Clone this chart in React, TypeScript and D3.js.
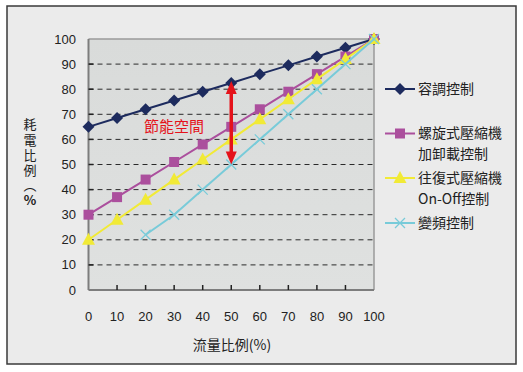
import React from "react";
import * as d3 from "d3";

// x: 流量比例(%)
const flowPct = [0, 10, 20, 30, 40, 50, 60, 70, 80, 90, 100];
const yTicks = [0, 10, 20, 30, 40, 50, 60, 70, 80, 90, 100];

// 耗電比例(%)
const capacityCtrl = [65, 68.5, 72, 75.5, 79, 82.5, 86, 89.5, 93, 96.5, 100];
const screwLoadUnload = [30, 37, 44, 51, 58, 65, 72, 79, 86, 93, 100];
const reciprocOnOff = [20, 28, 36, 44, 52, 60, 68, 76, 84, 92, 100];
const inverterFlow = [20, 30, 40, 50, 60, 70, 80, 90, 100];
const inverterCtrl = [22, 30, 40, 50, 60, 70, 80, 90, 100];

const savingFrom = 82.5;
const savingTo = 50;
const savingAt = 50;

const yTitle = "耗電比例︵";
const yTitleUnit = "%";

const W = 523, H = 372;
const plot = {left: 88.5, right: 374, top: 39, bottom: 290};
const font = "'Liberation Sans', 'Noto Sans CJK TC', sans-serif";
const cjk = "'Noto Sans CJK TC', 'Liberation Sans', sans-serif";

type Series = {
    name: string[];
    xs: number[];
    ys: number[];
    color: string;
    marker: "diamond" | "square" | "triangle" | "cross";
    legendY: number;
};

const series: Series[] = [
    {name: ["容調控制"], xs: flowPct, ys: capacityCtrl, color: "#1d2b5e", marker: "diamond", legendY: 89},
    {name: ["螺旋式壓縮機", "加卸載控制"], xs: flowPct, ys: screwLoadUnload, color: "#ab4f9d", marker: "square", legendY: 133.5},
    {name: ["往復式壓縮機", "On-Off控制"], xs: flowPct, ys: reciprocOnOff, color: "#f1ea36", marker: "triangle", legendY: 178},
    {name: ["變頻控制"], xs: inverterFlow, ys: inverterCtrl, color: "#78cbd9", marker: "cross", legendY: 223},
];

function Marker({kind, x, y, color}: {kind: string, x: number, y: number, color: string}) {
    if (kind === "diamond") {
        const r = 6;
        return <path d={`M${x},${y - r}L${x + r},${y}L${x},${y + r}L${x - r},${y}Z`} fill={color}/>;
    }
    if (kind === "square") {
        return <rect x={x - 5} y={y - 5} width={10} height={10} fill={color}/>;
    }
    if (kind === "triangle") {
        return <path d={`M${x},${y - 7}L${x + 6.5},${y + 5}L${x - 6.5},${y + 5}Z`} fill={color}/>;
    }
    const r = 5;
    return <path d={`M${x - r},${y - r}L${x + r},${y + r}M${x + r},${y - r}L${x - r},${y + r}`}
                 stroke={color} strokeWidth={1.3} fill="none"/>;
}

export default function App() {
    const x = d3.scaleLinear().domain([0, 100]).range([plot.left, plot.right]);
    const y = d3.scaleLinear().domain([0, 100]).range([plot.bottom, plot.top]);
    const line = d3.line<[number, number]>().x(d => x(d[0])).y(d => y(d[1]));

    const ax = x(savingAt);
    const aTop = y(savingFrom) - 2;
    const aBot = y(savingTo);

    return (
        <div style={{position: "fixed", left: 0, top: 0}}>
            <svg width={W} height={H} style={{display: "block"}}>
                <defs>
                    <linearGradient id="plotbg" x1="0" y1="0" x2="0" y2="1">
                        <stop offset="0" stopColor="#d9dbda"/>
                        <stop offset="1" stopColor="#dfe1e0"/>
                    </linearGradient>
                </defs>
                <rect x={0} y={0} width={W} height={H} fill="#ffffff"/>
                <rect x={7} y={6} width={509} height={358} fill="#ebebeb" stroke="#3a3a3a" strokeWidth={1.5}/>
                <rect x={plot.left} y={plot.top} width={plot.right - plot.left} height={plot.bottom - plot.top}
                      fill="url(#plotbg)"/>

                {/* gridlines */}
                {yTicks.filter(t => t > 0 && t < 100).map(t => (
                    <line key={t} x1={plot.left} x2={plot.right} y1={y(t)} y2={y(t)}
                          stroke="#2a2a2a" strokeWidth={1} strokeDasharray="5,4"/>
                ))}
                {/* frame */}
                <line x1={plot.left} x2={plot.right} y1={plot.top} y2={plot.top} stroke="#9a9a9a" strokeWidth={1.5}/>
                <line x1={plot.right} x2={plot.right} y1={plot.top} y2={plot.bottom} stroke="#9a9a9a" strokeWidth={1.5}/>
                <line x1={plot.left} x2={plot.left} y1={plot.top} y2={plot.bottom} stroke="#7d7d7d" strokeWidth={2}/>
                <line x1={plot.left} x2={plot.right} y1={plot.bottom} y2={plot.bottom} stroke="#7d7d7d" strokeWidth={2}/>
                {/* inner ticks */}
                {yTicks.filter(t => t > 0 && t < 100).map(t => (
                    <line key={"yt" + t} x1={plot.left} x2={plot.left + 5} y1={y(t)} y2={y(t)} stroke="#222" strokeWidth={1.5}/>
                ))}
                {flowPct.filter(t => t > 0 && t < 100).map(t => (
                    <line key={"xt" + t} x1={x(t)} x2={x(t)} y1={plot.bottom} y2={plot.bottom - 5} stroke="#222" strokeWidth={1.5}/>
                ))}

                {/* tick labels */}
                {yTicks.map(t => (
                    <text key={"yl" + t} x={76} y={y(t)} dy="0.35em" textAnchor="end"
                          fontFamily={font} fontSize={13} fill="#222">{t}</text>
                ))}
                {flowPct.map(t => (
                    <text key={"xl" + t} x={x(t)} y={316} dy="0.35em" textAnchor="middle"
                          fontFamily={font} fontSize={13} fill="#222">{t}</text>
                ))}

                {/* axis titles */}
                <text x={232} y={345} dy="0.35em" textAnchor="middle" fontFamily={cjk} fontSize={14} fill="#222">
                    流量比例(%)
                </text>
                <text x={30} y={118} fontFamily={cjk} fontSize={13} fill="#222" letterSpacing={2.2}
                      style={{writingMode: "vertical-rl", textOrientation: "upright"}}>
                    {yTitle}<tspan fontWeight="bold">{yTitleUnit}</tspan>
                </text>

                {/* series */}
                {series.map(s => {
                    const pts = s.xs.map((v, i) => [v, s.ys[i]] as [number, number]);
                    return (
                        <g key={s.name[0]}>
                            <path d={line(pts) || ""} fill="none" stroke={s.color} strokeWidth={2}/>
                            {pts.map((p, i) => (
                                <Marker key={i} kind={s.marker} x={x(p[0])} y={y(p[1])} color={s.color}/>
                            ))}
                        </g>
                    );
                })}

                {/* saving arrow */}
                <line x1={ax} x2={ax} y1={aTop + 10} y2={aBot - 10} stroke="#e5131b" strokeWidth={3.5}/>
                <path d={`M${ax},${aTop}L${ax + 5.5},${aTop + 13}L${ax - 5.5},${aTop + 13}Z`} fill="#e5131b"/>
                <path d={`M${ax},${aBot}L${ax + 5.5},${aBot - 13}L${ax - 5.5},${aBot - 13}Z`} fill="#e5131b"/>
                <text x={174} y={127} dy="0.35em" textAnchor="middle" fontFamily={cjk} fontSize={15} fill="#e5131b">
                    節能空間
                </text>

                {/* legend */}
                {series.map(s => (
                    <g key={"lg" + s.name[0]}>
                        <line x1={385} x2={415} y1={s.legendY} y2={s.legendY} stroke={s.color} strokeWidth={2}/>
                        <Marker kind={s.marker} x={400} y={s.legendY} color={s.color}/>
                        {s.name.map((n, i) => (
                            <text key={n} x={418} y={s.legendY + i * 21} dy="0.35em"
                                  fontFamily={cjk} fontSize={14} fill="#222">{n}</text>
                        ))}
                    </g>
                ))}
            </svg>
        </div>
    );
}
